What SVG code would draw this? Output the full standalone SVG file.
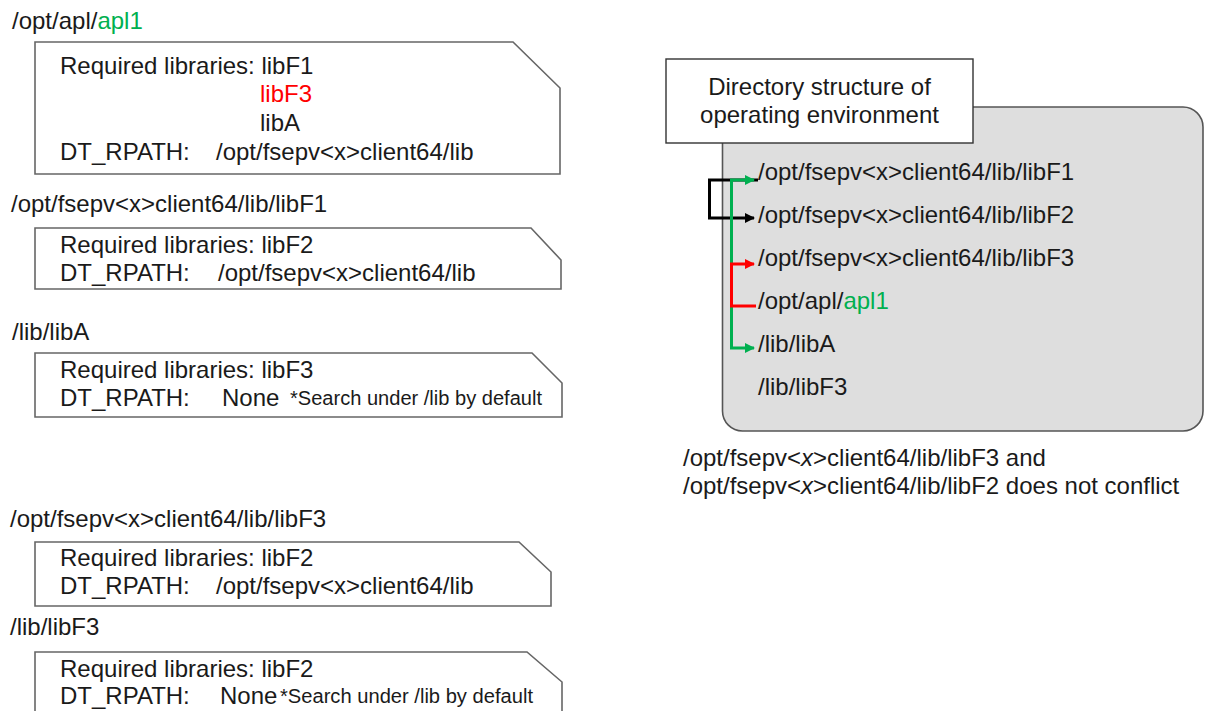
<svg xmlns="http://www.w3.org/2000/svg" width="1208" height="711" viewBox="0 0 1208 711">
<defs>
<style>
text{font-family:"Liberation Sans",Arial,sans-serif;font-size:24px;fill:#1a1a1a}
.note{font-size:20px}
.grn{fill:#00b050}
.red{fill:#ff0000}
.box{fill:#fff;stroke:#666;stroke-width:1.6}
.env{fill:#dedede;stroke:#555;stroke-width:1.6}
.title{fill:#fff;stroke:#333;stroke-width:1.4}
.c{fill:none;stroke-width:3}
</style>
<marker id="ak" viewBox="0 0 10 10" refX="9" refY="5" markerUnits="userSpaceOnUse" markerWidth="10" markerHeight="10" orient="auto"><path d="M0,0 L10,5 L0,10 z" fill="#000"/></marker>
<marker id="ag" viewBox="0 0 10 10" refX="9" refY="5" markerUnits="userSpaceOnUse" markerWidth="10" markerHeight="10" orient="auto"><path d="M0,0 L10,5 L0,10 z" fill="#00b050"/></marker>
<marker id="ar" viewBox="0 0 10 10" refX="9" refY="5" markerUnits="userSpaceOnUse" markerWidth="10" markerHeight="10" orient="auto"><path d="M0,0 L10,5 L0,10 z" fill="#ff0000"/></marker>
</defs>

<g id="apl1">
<text x="12" y="29">/opt/apl/<tspan class="grn">apl1</tspan></text>
<path class="box" d="M35,42 H513 L560,88 V174 H35 Z"/>
<text x="60" y="73.5">Required libraries: libF1</text>
<text x="260" y="102" class="red">libF3</text>
<text x="260" y="131">libA</text>
<text x="60" y="159.5">DT_RPATH:</text>
<text x="216" y="159.5">/opt/fsepv&lt;x&gt;client64/lib</text>
</g>

<g id="libF1">
<text x="11" y="212">/opt/fsepv&lt;x&gt;client64/lib/libF1</text>
<path class="box" d="M35,228 H531 L561,260 V289 H35 Z"/>
<text x="60" y="253">Required libraries: libF2</text>
<text x="60" y="281">DT_RPATH:</text>
<text x="218" y="281">/opt/fsepv&lt;x&gt;client64/lib</text>
</g>

<g id="libA">
<text x="12" y="340">/lib/libA</text>
<path class="box" d="M35,353 H532 L562,383 V417 H35 Z"/>
<text x="60" y="378">Required libraries: libF3</text>
<text x="60" y="406">DT_RPATH:</text>
<text x="222" y="406">None</text>
<text x="290" y="405" class="note" textLength="252" lengthAdjust="spacingAndGlyphs">*Search under /lib by default</text>
</g>

<g id="libF3">
<text x="10" y="527">/opt/fsepv&lt;x&gt;client64/lib/libF3</text>
<path class="box" d="M35,542 H519 L551,572 V606 H35 Z"/>
<text x="60" y="565.5">Required libraries: libF2</text>
<text x="60" y="593.5">DT_RPATH:</text>
<text x="216" y="593.5">/opt/fsepv&lt;x&gt;client64/lib</text>
</g>

<g id="lib-libF3">
<text x="10" y="635">/lib/libF3</text>
<path class="box" d="M35,716 V652 H527 L562,682 V716"/>
<text x="60" y="677">Required libraries: libF2</text>
<text x="60" y="704">DT_RPATH:</text>
<text x="220" y="704">None</text>
<text x="280" y="703" class="note" textLength="253" lengthAdjust="spacingAndGlyphs">*Search under /lib by default</text>
</g>

<g id="environment">
<rect class="env" x="722.5" y="107" width="480.5" height="324" rx="20" ry="20"/>
<text x="758" y="180">/opt/fsepv&lt;x&gt;client64/lib/libF1</text>
<text x="758" y="222.5">/opt/fsepv&lt;x&gt;client64/lib/libF2</text>
<text x="758" y="266">/opt/fsepv&lt;x&gt;client64/lib/libF3</text>
<text x="758" y="309">/opt/apl/<tspan class="grn">apl1</tspan></text>
<text x="758" y="352">/lib/libA</text>
<text x="758" y="395">/lib/libF3</text>
</g>

<g id="title">
<rect class="title" x="666" y="59" width="307" height="84"/>
<text x="819.5" y="95" text-anchor="middle">Directory structure of</text>
<text x="819.5" y="123" text-anchor="middle">operating environment</text>
</g>

<g id="connectors">
<path class="c" stroke="#000" d="M758,180 H709.5 V218 H754" marker-end="url(#ak)"/>
<path class="c" stroke="#00b050" d="M731.5,306 V180 H754" marker-end="url(#ag)"/>
<path class="c" stroke="#00b050" d="M731.5,306 V348 H754" marker-end="url(#ag)"/>
<path class="c" stroke="#ff0000" d="M756,306 H731.5 V264 H754" marker-end="url(#ar)"/>
</g>

<g id="caption">
<text x="683" y="466">/opt/fsepv&lt;<tspan font-style="italic">x</tspan>&gt;client64/lib/libF3 and</text>
<text x="683" y="494">/opt/fsepv&lt;<tspan font-style="italic">x</tspan>&gt;client64/lib/libF2 does not conflict</text>
</g>
</svg>
